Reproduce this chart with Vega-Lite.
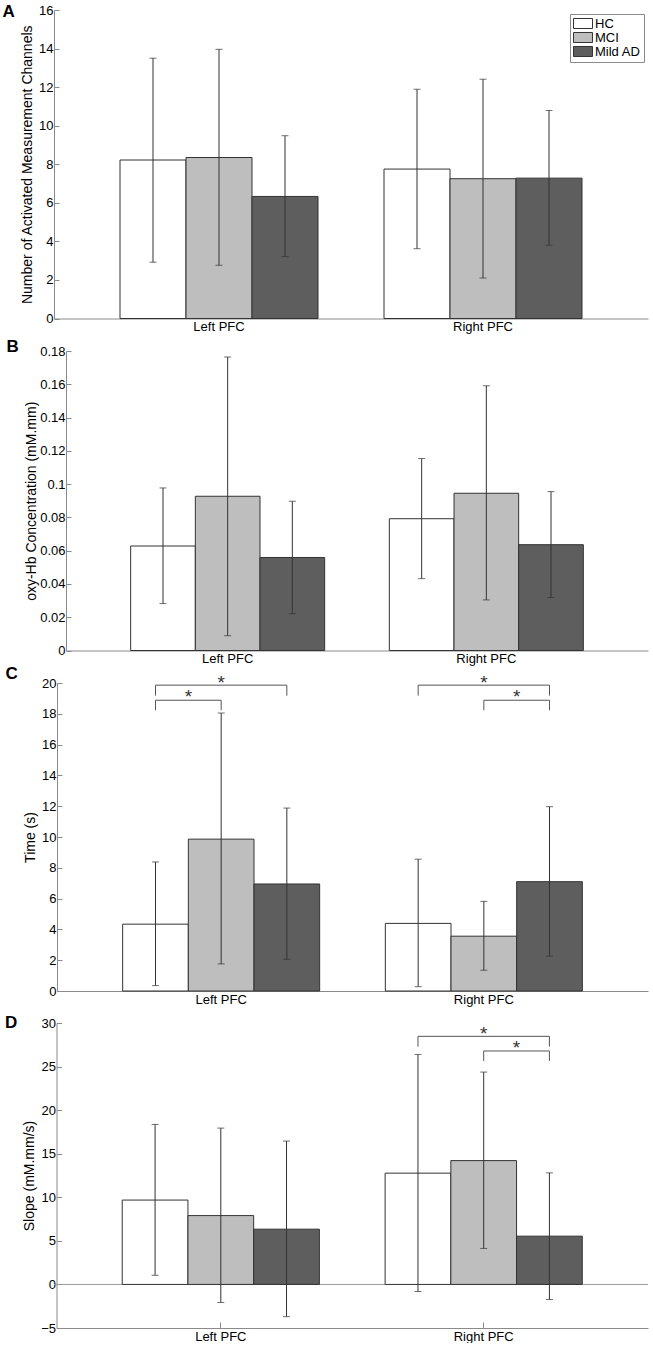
{
  "$schema": "https://vega.github.io/schema/vega-lite/v6.json",
  "background": "white",
  "padding": {"left": 2, "top": 3, "right": 0, "bottom": 0},
  "config": {
    "view": {"stroke": null},
    "font": "Liberation Sans",
    "axis": {
      "domainColor": "#8a8a8a",
      "tickColor": "#8a8a8a",
      "labelColor": "#000000",
      "titleColor": "#000000",
      "labelFontSize": 13,
      "titleFontSize": 14,
      "titleFontWeight": "normal",
      "grid": false,
      "tickSize": -5,
      "labelPadding": 6,
      "labelOverlap": false
    },
    "axisY": {"titleBaseline": "middle", "labelOverlap": false, "tickCount": 20},
    "title": {"fontSize": 17, "fontWeight": "bold", "color": "#000000"},
    "legend": {
      "orient": "top-right",
      "offset": 4,
      "strokeColor": "#8a8a8a",
      "fillColor": "#ffffff",
      "padding": 3,
      "labelFontSize": 13,
      "labelColor": "#000000",
      "labelOffset": 5,
      "symbolType": "M-1.46,-0.77H1.46V0.77H-1.46Z",
      "symbolSize": 169,
      "symbolOffset": 3,
      "symbolStrokeColor": "#333333",
      "symbolStrokeWidth": 1,
      "clipHeight": 13,
      "rowPadding": 0,
      "title": null
    }
  },
  "datasets": {
    "barsA": [
      {"region": "Left PFC", "group": "HC", "mean": 8.22, "lo": 2.92, "hi": 13.50},
      {"region": "Left PFC", "group": "MCI", "mean": 8.35, "lo": 2.76, "hi": 13.96},
      {"region": "Left PFC", "group": "Mild AD", "mean": 6.33, "lo": 3.21, "hi": 9.48},
      {"region": "Right PFC", "group": "HC", "mean": 7.75, "lo": 3.62, "hi": 11.89},
      {"region": "Right PFC", "group": "MCI", "mean": 7.25, "lo": 2.10, "hi": 12.41},
      {"region": "Right PFC", "group": "Mild AD", "mean": 7.28, "lo": 3.80, "hi": 10.79}
    ],
    "barsB": [
      {"region": "Left PFC", "group": "HC", "mean": 0.0628, "lo": 0.0282, "hi": 0.0977},
      {"region": "Left PFC", "group": "MCI", "mean": 0.0927, "lo": 0.0089, "hi": 0.1764},
      {"region": "Left PFC", "group": "Mild AD", "mean": 0.0559, "lo": 0.0221, "hi": 0.0897},
      {"region": "Right PFC", "group": "HC", "mean": 0.0792, "lo": 0.0432, "hi": 0.1154},
      {"region": "Right PFC", "group": "MCI", "mean": 0.0945, "lo": 0.0304, "hi": 0.1591},
      {"region": "Right PFC", "group": "Mild AD", "mean": 0.0636, "lo": 0.0318, "hi": 0.0955}
    ],
    "barsC": [
      {"region": "Left PFC", "group": "HC", "mean": 4.34, "lo": 0.35, "hi": 8.38},
      {"region": "Left PFC", "group": "MCI", "mean": 9.86, "lo": 1.76, "hi": 18.05},
      {"region": "Left PFC", "group": "Mild AD", "mean": 6.95, "lo": 2.06, "hi": 11.88},
      {"region": "Right PFC", "group": "HC", "mean": 4.39, "lo": 0.28, "hi": 8.56},
      {"region": "Right PFC", "group": "MCI", "mean": 3.56, "lo": 1.35, "hi": 5.82},
      {"region": "Right PFC", "group": "Mild AD", "mean": 7.10, "lo": 2.26, "hi": 11.97}
    ],
    "barsD": [
      {"region": "Left PFC", "group": "HC", "mean": 9.68, "lo": 1.05, "hi": 18.36},
      {"region": "Left PFC", "group": "MCI", "mean": 7.90, "lo": -2.07, "hi": 17.94},
      {"region": "Left PFC", "group": "Mild AD", "mean": 6.34, "lo": -3.70, "hi": 16.45},
      {"region": "Right PFC", "group": "HC", "mean": 12.77, "lo": -0.81, "hi": 26.39},
      {"region": "Right PFC", "group": "MCI", "mean": 14.21, "lo": 4.13, "hi": 24.37},
      {"region": "Right PFC", "group": "Mild AD", "mean": 5.54, "lo": -1.73, "hi": 12.80}
    ],
    "bracketsC": [
      {"bid": "L1", "seq": 1, "region": "Left PFC", "group": "HC", "y": 18.23},
      {"bid": "L1", "seq": 2, "region": "Left PFC", "group": "HC", "y": 18.88},
      {"bid": "L1", "seq": 3, "region": "Left PFC", "group": "MCI", "y": 18.88},
      {"bid": "L1", "seq": 4, "region": "Left PFC", "group": "MCI", "y": 18.23},
      {"bid": "L2", "seq": 1, "region": "Left PFC", "group": "HC", "y": 19.18},
      {"bid": "L2", "seq": 2, "region": "Left PFC", "group": "HC", "y": 19.86},
      {"bid": "L2", "seq": 3, "region": "Left PFC", "group": "Mild AD", "y": 19.86},
      {"bid": "L2", "seq": 4, "region": "Left PFC", "group": "Mild AD", "y": 19.18},
      {"bid": "R2", "seq": 1, "region": "Right PFC", "group": "HC", "y": 19.18},
      {"bid": "R2", "seq": 2, "region": "Right PFC", "group": "HC", "y": 19.86},
      {"bid": "R2", "seq": 3, "region": "Right PFC", "group": "Mild AD", "y": 19.86},
      {"bid": "R2", "seq": 4, "region": "Right PFC", "group": "Mild AD", "y": 19.18},
      {"bid": "R1", "seq": 1, "region": "Right PFC", "group": "MCI", "y": 18.23},
      {"bid": "R1", "seq": 2, "region": "Right PFC", "group": "MCI", "y": 18.88},
      {"bid": "R1", "seq": 3, "region": "Right PFC", "group": "Mild AD", "y": 18.88},
      {"bid": "R1", "seq": 4, "region": "Right PFC", "group": "Mild AD", "y": 18.23}
    ],
    "starsC": [
      {"region": "Left PFC", "pair": "HC/MCI", "y": 19.36},
      {"region": "Left PFC", "pair": "MCI", "y": 20.27},
      {"region": "Right PFC", "pair": "MCI", "y": 20.27},
      {"region": "Right PFC", "pair": "MCI/Mild AD", "y": 19.36}
    ],
    "bracketsD": [
      {"bid": "R2", "seq": 1, "region": "Right PFC", "group": "HC", "y": 27.29},
      {"bid": "R2", "seq": 2, "region": "Right PFC", "group": "HC", "y": 28.47},
      {"bid": "R2", "seq": 3, "region": "Right PFC", "group": "Mild AD", "y": 28.47},
      {"bid": "R2", "seq": 4, "region": "Right PFC", "group": "Mild AD", "y": 27.29},
      {"bid": "R1", "seq": 1, "region": "Right PFC", "group": "MCI", "y": 25.64},
      {"bid": "R1", "seq": 2, "region": "Right PFC", "group": "MCI", "y": 26.79},
      {"bid": "R1", "seq": 3, "region": "Right PFC", "group": "Mild AD", "y": 26.79},
      {"bid": "R1", "seq": 4, "region": "Right PFC", "group": "Mild AD", "y": 25.64}
    ],
    "starsD": [
      {"region": "Right PFC", "pair": "MCI", "y": 29.2},
      {"region": "Right PFC", "pair": "MCI/Mild AD", "y": 27.67}
    ]
  },
  "concat": [
    {
      "width": 594,
      "height": 308.5,
      "title": {"text": "A", "orient": "left", "anchor": "end", "angle": 0, "align": "right", "baseline": "top", "offset": -7, "dy": 0},
      "data": {"name": "barsA"},
      "layer": [
        {
          "mark": {"type": "bar", "stroke": "#333333", "strokeWidth": 1},
          "encoding": {
            "x": {"field": "region", "type": "nominal", "scale": {"paddingInner": 0.25, "paddingOuter": 0.25}, "axis": {"title": null, "labelAngle": 0, "labelFontSize": 13, "labelPadding": 8, "tickSize": -6}},
            "xOffset": {"field": "group", "type": "nominal", "scale": {"domain": ["HC", "MCI", "Mild AD"], "paddingInner": 0, "paddingOuter": 0}},
            "y": {"field": "mean", "type": "quantitative", "scale": {"domain": [0, 16], "nice": false}, "axis": {"title": "Number of Activated Measurement Channels", "values": [0, 2, 4, 6, 8, 10, 12, 14, 16], "tickCount": 20, "labelOverlap": false, "titleX": -27}},
            "fill": {"field": "group", "type": "nominal", "scale": {"domain": ["HC", "MCI", "Mild AD"], "range": ["#ffffff", "#bebebe", "#5e5e5e"]}}
          }
        },
        {
          "mark": {"type": "rule", "color": "#333333", "strokeWidth": 1},
          "encoding": {
            "x": {"field": "region", "type": "nominal"},
            "xOffset": {"field": "group", "type": "nominal", "scale": {"type": "point", "domain": ["HC", "HC/MCI", "MCI", "MCI/Mild AD", "Mild AD"], "padding": 1}},
            "y": {"field": "lo", "type": "quantitative"},
            "y2": {"field": "hi"}
          }
        },
        {
          "mark": {"type": "tick", "color": "#333333", "size": 7, "thickness": 1, "orient": "horizontal"},
          "encoding": {
            "x": {"field": "region", "type": "nominal"},
            "xOffset": {"field": "group", "type": "nominal", "scale": {"type": "point", "domain": ["HC", "HC/MCI", "MCI", "MCI/Mild AD", "Mild AD"], "padding": 1}},
            "y": {"field": "lo", "type": "quantitative"}
          }
        },
        {
          "mark": {"type": "tick", "color": "#333333", "size": 7, "thickness": 1, "orient": "horizontal"},
          "encoding": {
            "x": {"field": "region", "type": "nominal"},
            "xOffset": {"field": "group", "type": "nominal", "scale": {"type": "point", "domain": ["HC", "HC/MCI", "MCI", "MCI/Mild AD", "Mild AD"], "padding": 1}},
            "y": {"field": "hi", "type": "quantitative"}
          }
        }
      ],
      "resolve": {"scale": {"xOffset": "independent"}}
    },
    {
      "width": 594,
      "height": 299.5,
      "title": {"text": "B", "orient": "left", "anchor": "end", "angle": 0, "align": "right", "baseline": "top", "offset": -7, "dy": -6},
      "data": {"name": "barsB"},
      "layer": [
        {
          "mark": {"type": "bar", "stroke": "#333333", "strokeWidth": 1},
          "encoding": {
            "x": {"field": "region", "type": "nominal", "scale": {"paddingInner": 0.25, "paddingOuter": 0.25, "range": [12, 594]}, "axis": {"title": null, "labelAngle": 0, "labelFontSize": 13, "labelPadding": 8, "tickSize": -6}},
            "xOffset": {"field": "group", "type": "nominal", "scale": {"domain": ["HC", "MCI", "Mild AD"], "paddingInner": 0, "paddingOuter": 0}},
            "y": {"field": "mean", "type": "quantitative", "scale": {"domain": [0, 0.18], "nice": false}, "axis": {"title": "oxy-Hb Concentration (mM.mm)", "values": [0, 0.02, 0.04, 0.06, 0.08, 0.1, 0.12, 0.14, 0.16, 0.18], "tickCount": 20, "format": "~g", "labelOverlap": false, "offset": -12, "titleX": -35}},
            "fill": {"field": "group", "type": "nominal", "scale": {"domain": ["HC", "MCI", "Mild AD"], "range": ["#ffffff", "#bebebe", "#5e5e5e"]}, "legend": null}
          }
        },
        {
          "mark": {"type": "rule", "color": "#333333", "strokeWidth": 1},
          "encoding": {
            "x": {"field": "region", "type": "nominal"},
            "xOffset": {"field": "group", "type": "nominal", "scale": {"type": "point", "domain": ["HC", "HC/MCI", "MCI", "MCI/Mild AD", "Mild AD"], "padding": 1}},
            "y": {"field": "lo", "type": "quantitative"},
            "y2": {"field": "hi"}
          }
        },
        {
          "mark": {"type": "tick", "color": "#333333", "size": 7, "thickness": 1, "orient": "horizontal"},
          "encoding": {
            "x": {"field": "region", "type": "nominal"},
            "xOffset": {"field": "group", "type": "nominal", "scale": {"type": "point", "domain": ["HC", "HC/MCI", "MCI", "MCI/Mild AD", "Mild AD"], "padding": 1}},
            "y": {"field": "lo", "type": "quantitative"}
          }
        },
        {
          "mark": {"type": "tick", "color": "#333333", "size": 7, "thickness": 1, "orient": "horizontal"},
          "encoding": {
            "x": {"field": "region", "type": "nominal"},
            "xOffset": {"field": "group", "type": "nominal", "scale": {"type": "point", "domain": ["HC", "HC/MCI", "MCI", "MCI/Mild AD", "Mild AD"], "padding": 1}},
            "y": {"field": "hi", "type": "quantitative"}
          }
        }
      ],
      "resolve": {"scale": {"xOffset": "independent"}}
    },
    {
      "width": 594,
      "height": 308,
      "title": {"text": "C", "orient": "left", "anchor": "end", "angle": 0, "align": "right", "baseline": "top", "offset": -7, "dy": -8},
      "layer": [
        {
          "data": {"name": "barsC"},
          "mark": {"type": "bar", "stroke": "#333333", "strokeWidth": 1},
          "encoding": {
            "x": {"field": "region", "type": "nominal", "scale": {"paddingInner": 0.25, "paddingOuter": 0.25, "range": [3, 594]}, "axis": {"title": null, "labelAngle": 0, "labelFontSize": 13, "labelPadding": 8, "tickSize": -6}},
            "xOffset": {"field": "group", "type": "nominal", "scale": {"domain": ["HC", "MCI", "Mild AD"], "paddingInner": 0, "paddingOuter": 0}},
            "y": {"field": "mean", "type": "quantitative", "scale": {"domain": [0, 20], "nice": false}, "axis": {"title": "Time (s)", "values": [0, 2, 4, 6, 8, 10, 12, 14, 16, 18, 20], "tickCount": 20, "labelOverlap": false, "offset": -3, "titleX": -27}},
            "fill": {"field": "group", "type": "nominal", "scale": {"domain": ["HC", "MCI", "Mild AD"], "range": ["#ffffff", "#bebebe", "#5e5e5e"]}, "legend": null}
          }
        },
        {
          "data": {"name": "barsC"},
          "mark": {"type": "rule", "color": "#333333", "strokeWidth": 1},
          "encoding": {
            "x": {"field": "region", "type": "nominal"},
            "xOffset": {"field": "group", "type": "nominal", "scale": {"type": "point", "domain": ["HC", "HC/MCI", "MCI", "MCI/Mild AD", "Mild AD"], "padding": 1}},
            "y": {"field": "lo", "type": "quantitative"},
            "y2": {"field": "hi"}
          }
        },
        {
          "data": {"name": "barsC"},
          "mark": {"type": "tick", "color": "#333333", "size": 7, "thickness": 1, "orient": "horizontal"},
          "encoding": {
            "x": {"field": "region", "type": "nominal"},
            "xOffset": {"field": "group", "type": "nominal", "scale": {"type": "point", "domain": ["HC", "HC/MCI", "MCI", "MCI/Mild AD", "Mild AD"], "padding": 1}},
            "y": {"field": "lo", "type": "quantitative"}
          }
        },
        {
          "data": {"name": "barsC"},
          "mark": {"type": "tick", "color": "#333333", "size": 7, "thickness": 1, "orient": "horizontal"},
          "encoding": {
            "x": {"field": "region", "type": "nominal"},
            "xOffset": {"field": "group", "type": "nominal", "scale": {"type": "point", "domain": ["HC", "HC/MCI", "MCI", "MCI/Mild AD", "Mild AD"], "padding": 1}},
            "y": {"field": "hi", "type": "quantitative"}
          }
        },
        {
          "data": {"name": "bracketsC"},
          "mark": {"type": "line", "color": "#555555", "strokeWidth": 1, "clip": false},
          "encoding": {
            "x": {"field": "region", "type": "nominal"},
            "xOffset": {"field": "group", "type": "nominal", "scale": {"type": "point", "domain": ["HC", "HC/MCI", "MCI", "MCI/Mild AD", "Mild AD"], "padding": 1}},
            "y": {"field": "y", "type": "quantitative"},
            "detail": {"field": "bid", "type": "nominal"},
            "order": {"field": "seq", "type": "quantitative"}
          }
        },
        {
          "data": {"name": "starsC"},
          "mark": {"type": "text", "text": "*", "fontSize": 19, "color": "#333333", "baseline": "middle", "dy": 4.5},
          "encoding": {
            "x": {"field": "region", "type": "nominal"},
            "xOffset": {"field": "pair", "type": "nominal", "scale": {"type": "point", "domain": ["HC", "HC/MCI", "MCI", "MCI/Mild AD", "Mild AD"], "padding": 1}},
            "y": {"field": "y", "type": "quantitative"}
          }
        }
      ],
      "resolve": {"scale": {"xOffset": "independent"}}
    },
    {
      "width": 594,
      "height": 305,
      "title": {"text": "D", "orient": "left", "anchor": "end", "angle": 0, "align": "right", "baseline": "top", "offset": -7, "dy": -2},
      "layer": [
        {
          "data": {"values": [{"zero": 0}]},
          "mark": {"type": "rule", "color": "#9a9a9a", "strokeWidth": 1},
          "encoding": {"y": {"field": "zero", "type": "quantitative"}}
        },
        {
          "data": {"name": "barsD"},
          "mark": {"type": "bar", "stroke": "#333333", "strokeWidth": 1},
          "encoding": {
            "x": {"field": "region", "type": "nominal", "scale": {"paddingInner": 0.25, "paddingOuter": 0.25, "range": [2.5, 594]}, "axis": {"title": null, "labelAngle": 0, "labelFontSize": 13, "labelPadding": 8, "tickSize": -6}},
            "xOffset": {"field": "group", "type": "nominal", "scale": {"domain": ["HC", "MCI", "Mild AD"], "paddingInner": 0, "paddingOuter": 0}},
            "y": {"field": "mean", "type": "quantitative", "scale": {"domain": [-5, 30], "nice": false}, "axis": {"title": "Slope (mM.mm/s)", "values": [-5, 0, 5, 10, 15, 20, 25, 30], "tickCount": 20, "labelOverlap": false, "offset": -2.5, "titleX": -27}},
            "fill": {"field": "group", "type": "nominal", "scale": {"domain": ["HC", "MCI", "Mild AD"], "range": ["#ffffff", "#bebebe", "#5e5e5e"]}, "legend": null}
          }
        },
        {
          "data": {"name": "barsD"},
          "mark": {"type": "rule", "color": "#333333", "strokeWidth": 1},
          "encoding": {
            "x": {"field": "region", "type": "nominal"},
            "xOffset": {"field": "group", "type": "nominal", "scale": {"type": "point", "domain": ["HC", "HC/MCI", "MCI", "MCI/Mild AD", "Mild AD"], "padding": 1}},
            "y": {"field": "lo", "type": "quantitative"},
            "y2": {"field": "hi"}
          }
        },
        {
          "data": {"name": "barsD"},
          "mark": {"type": "tick", "color": "#333333", "size": 7, "thickness": 1, "orient": "horizontal"},
          "encoding": {
            "x": {"field": "region", "type": "nominal"},
            "xOffset": {"field": "group", "type": "nominal", "scale": {"type": "point", "domain": ["HC", "HC/MCI", "MCI", "MCI/Mild AD", "Mild AD"], "padding": 1}},
            "y": {"field": "lo", "type": "quantitative"}
          }
        },
        {
          "data": {"name": "barsD"},
          "mark": {"type": "tick", "color": "#333333", "size": 7, "thickness": 1, "orient": "horizontal"},
          "encoding": {
            "x": {"field": "region", "type": "nominal"},
            "xOffset": {"field": "group", "type": "nominal", "scale": {"type": "point", "domain": ["HC", "HC/MCI", "MCI", "MCI/Mild AD", "Mild AD"], "padding": 1}},
            "y": {"field": "hi", "type": "quantitative"}
          }
        },
        {
          "data": {"name": "bracketsD"},
          "mark": {"type": "line", "color": "#555555", "strokeWidth": 1, "clip": false},
          "encoding": {
            "x": {"field": "region", "type": "nominal"},
            "xOffset": {"field": "group", "type": "nominal", "scale": {"type": "point", "domain": ["HC", "HC/MCI", "MCI", "MCI/Mild AD", "Mild AD"], "padding": 1}},
            "y": {"field": "y", "type": "quantitative"},
            "detail": {"field": "bid", "type": "nominal"},
            "order": {"field": "seq", "type": "quantitative"}
          }
        },
        {
          "data": {"name": "starsD"},
          "mark": {"type": "text", "text": "*", "fontSize": 19, "color": "#333333", "baseline": "middle", "dy": 4.5},
          "encoding": {
            "x": {"field": "region", "type": "nominal"},
            "xOffset": {"field": "pair", "type": "nominal", "scale": {"type": "point", "domain": ["HC", "HC/MCI", "MCI", "MCI/Mild AD", "Mild AD"], "padding": 1}},
            "y": {"field": "y", "type": "quantitative"}
          }
        }
      ],
      "resolve": {"scale": {"xOffset": "independent"}}
    }
  ],
  "columns": 1,
  "align": "none",
  "bounds": "flush",
  "spacing": 32,
  "resolve": {"scale": {"x": "independent", "y": "independent", "fill": "independent", "xOffset": "independent"}, "legend": {"fill": "independent"}}
}
